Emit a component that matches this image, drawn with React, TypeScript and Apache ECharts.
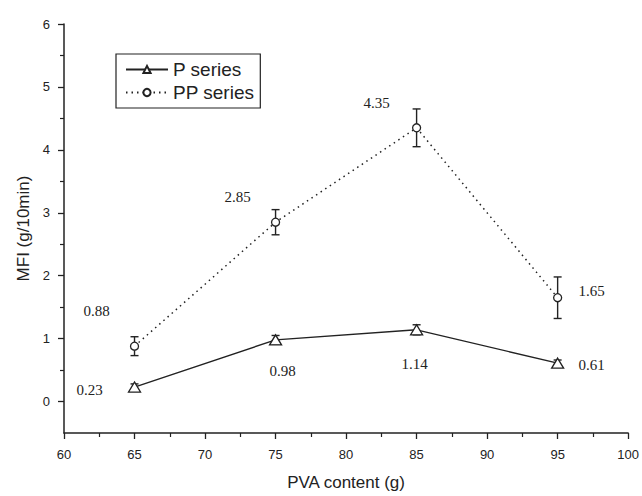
import { useEffect, useRef } from "react";
import * as echarts from "echarts";

const xValues = [65, 75, 85, 95];
const pSeries = [0.23, 0.98, 1.14, 0.61];
const pErrors = [0.05, 0.07, 0.08, 0.05];
const ppSeries = [0.88, 2.85, 4.35, 1.65];
const ppErrors = [0.15, 0.2, 0.3, 0.33];
const pLabels = ["0.23", "0.98", "1.14", "0.61"];
const ppLabels = ["0.88", "2.85", "4.35", "1.65"];
const yMajorTicks = [0, 1, 2, 3, 4, 5, 6];
const yMinorTicks = [0.5, 1.5, 2.5, 3.5, 4.5, 5.5];

// label offsets (layout only)
const pLabelOffsets = [
  [-45, 3],
  [7, 31],
  [-2, 34],
  [34, 2],
];
const ppLabelOffsets = [
  [-38, -35],
  [-38, -25],
  [-40, -25],
  [34, -7],
];

const INK = "#222";
const SANS = "'Liberation Sans', Arial, sans-serif";
const SERIF = "'Liberation Serif', 'Times New Roman', serif";

function errorBarSeries(values: number[], errors: number[], name: string) {
  return {
    type: "custom",
    name,
    z: 1,
    silent: true,
    encode: { x: 0, y: 1 },
    data: xValues.map((x, i) => [x, values[i], errors[i]]),
    renderItem: (params: any, api: any) => {
      const x = api.value(0);
      const y = api.value(1);
      const e = api.value(2);
      const top = api.coord([x, y + e]);
      const bot = api.coord([x, y - e]);
      const hw = 4;
      const style = { stroke: INK, lineWidth: 1.4 };
      return {
        type: "group",
        children: [
          { type: "line", shape: { x1: top[0], y1: top[1], x2: bot[0], y2: bot[1] }, style },
          { type: "line", shape: { x1: top[0] - hw, y1: top[1], x2: top[0] + hw, y2: top[1] }, style },
          { type: "line", shape: { x1: bot[0] - hw, y1: bot[1], x2: bot[0] + hw, y2: bot[1] }, style },
        ],
      };
    },
  };
}

export default function App() {
  const ref = useRef<HTMLDivElement>(null);
  useEffect(() => {
    if (!ref.current) return;
    document.body.style.margin = "0";
    const chart = echarts.init(ref.current, null, { renderer: "svg" });
    const labelStyle = { fontFamily: SERIF, fontSize: 15, color: INK };
    chart.setOption({
      animation: false,
      backgroundColor: "#fff",
      grid: { left: 64, right: 11, top: 24, bottom: 62 },
      legend: {
        orient: "vertical",
        left: 116,
        top: 54,
        padding: [6, 6, 6, 9],
        itemGap: 4,
        itemWidth: 42,
        itemHeight: 9,
        borderColor: INK,
        borderWidth: 1.2,
        textStyle: { fontFamily: SANS, fontSize: 19, color: INK },
        data: ["P series", "PP series"],
      },
      xAxis: {
        type: "value",
        min: 60,
        max: 100,
        interval: 5,
        name: "PVA content (g)",
        nameLocation: "middle",
        nameGap: 41,
        nameTextStyle: { fontFamily: SANS, fontSize: 17, color: INK },
        axisLine: { onZero: false, lineStyle: { color: INK, width: 1.5 } },
        axisTick: { length: 6, lineStyle: { color: INK, width: 1.3 } },
        minorTick: { show: true, splitNumber: 2, length: 4, lineStyle: { color: INK, width: 1.2 } },
        axisLabel: { fontFamily: SANS, fontSize: 13, color: INK, margin: 15 },
        splitLine: { show: false },
      },
      yAxis: [
        {
          type: "value",
          min: -0.5,
          max: 6,
          name: "MFI (g/10min)",
          nameLocation: "middle",
          nameGap: 31,
          nameTextStyle: { fontFamily: SANS, fontSize: 17, color: INK },
          axisLine: { show: true, onZero: false, lineStyle: { color: INK, width: 1.5 } },
          axisTick: { show: true, customValues: yMajorTicks, length: 6, lineStyle: { color: INK, width: 1.3 } },
          axisLabel: { customValues: yMajorTicks, fontFamily: SANS, fontSize: 13, color: INK, margin: 14 },
          splitLine: { show: false },
        },
        {
          type: "value",
          min: -0.5,
          max: 6,
          position: "left",
          axisLine: { show: false, onZero: false },
          axisTick: { show: true, customValues: yMinorTicks, length: 4, lineStyle: { color: INK, width: 1.2 } },
          axisLabel: { show: false, customValues: yMinorTicks },
          splitLine: { show: false },
        },
      ],
      series: [
        errorBarSeries(pSeries, pErrors, "P err"),
        errorBarSeries(ppSeries, ppErrors, "PP err"),
        {
          type: "line",
          name: "P series",
          z: 3,
          symbol: "triangle",
          symbolSize: [12, 10],
          itemStyle: { color: "#fff", borderColor: INK, borderWidth: 1.3 },
          lineStyle: { color: INK, width: 1.4, type: "solid" },
          data: xValues.map((x, i) => ({
            value: [x, pSeries[i]],
            label: { offset: pLabelOffsets[i] },
          })),
          label: {
            show: true,
            position: "inside",
            formatter: (p: any) => pLabels[p.dataIndex],
            ...labelStyle,
          },
        },
        {
          type: "line",
          name: "PP series",
          z: 3,
          symbol: "circle",
          symbolSize: 8,
          itemStyle: { color: "#fff", borderColor: INK, borderWidth: 1.3 },
          lineStyle: { color: INK, width: 1.5, type: [1.5, 4] },
          data: xValues.map((x, i) => ({
            value: [x, ppSeries[i]],
            label: { offset: ppLabelOffsets[i] },
          })),
          label: {
            show: true,
            position: "inside",
            formatter: (p: any) => ppLabels[p.dataIndex],
            ...labelStyle,
          },
        },
      ],
    });
    return () => chart.dispose();
  }, []);
  return <div ref={ref} style={{ width: 642, height: 496 }} />;
}
